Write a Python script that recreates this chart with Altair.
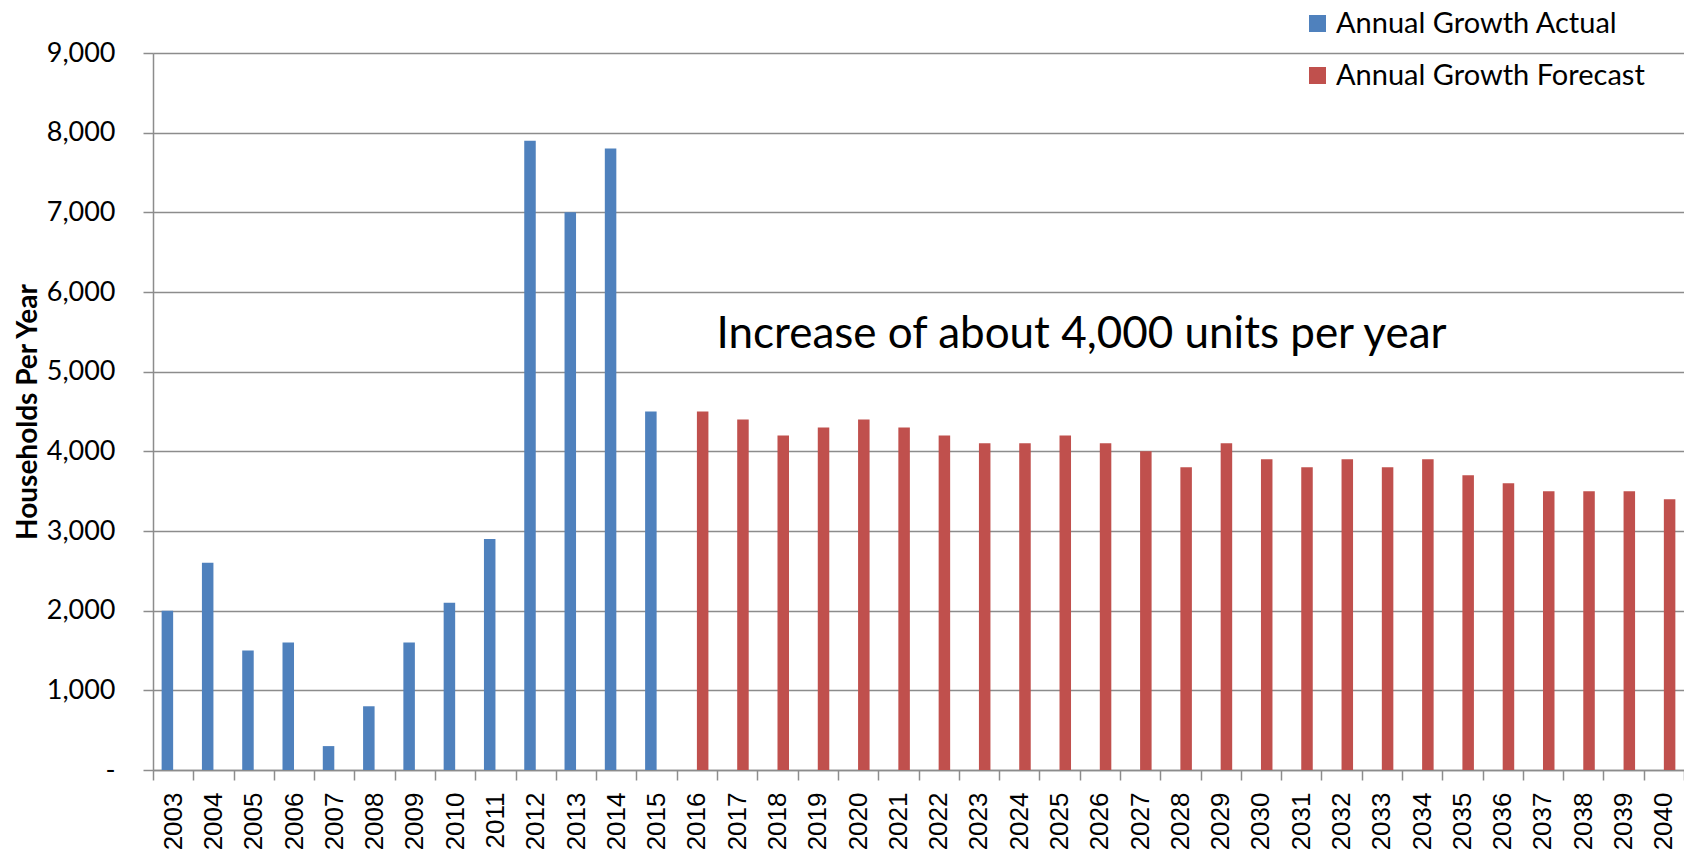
import altair as alt
import pandas as pd

actual_years = ["2003", "2004", "2005", "2006", "2007", "2008", "2009", "2010",
                "2011", "2012", "2013", "2014", "2015"]
actual_values = [2000, 2600, 1500, 1600, 300, 800, 1600, 2100, 2900, 7900, 7000, 7800, 4500]

forecast_years = ["2016", "2017", "2018", "2019", "2020", "2021", "2022", "2023",
                  "2024", "2025", "2026", "2027", "2028", "2029", "2030", "2031",
                  "2032", "2033", "2034", "2035", "2036", "2037", "2038", "2039", "2040"]
forecast_values = [4500, 4400, 4200, 4300, 4400, 4300, 4200, 4100, 4100, 4200, 4100,
                   4000, 3800, 4100, 3900, 3800, 3900, 3800, 3900, 3700, 3600, 3500,
                   3500, 3500, 3400]

series_names = ["Annual Growth Actual", "Annual Growth Forecast"]
series_colors = ["#4F81BD", "#C0504D"]

y_ticks = [0, 1000, 2000, 3000, 4000, 5000, 6000, 7000, 8000, 9000]

annotation_text = ["Increase of about 4,000 units per year"]
annotation_year = ["2025"]
annotation_value = [5300]

all_years = actual_years + forecast_years

rows = []
for y, v in zip(actual_years, actual_values):
    rows.append({"year": y, "value": v, "series": series_names[0]})
for y, v in zip(forecast_years, forecast_values):
    rows.append({"year": y, "value": v, "series": series_names[1]})
df = pd.DataFrame(rows)

ann = pd.DataFrame({"year": annotation_year, "value": annotation_value, "text": annotation_text})

x_enc = alt.X(
    "year:N",
    sort=all_years,
    scale=alt.Scale(domain=all_years, paddingInner=0, paddingOuter=0),
    axis=alt.Axis(
        title=None,
        labelAngle=270,
        labelFont="Liberation Sans",
        labelFontSize=26,
        labelColor="#000000",
        labelPadding=12,
        tickBand="extent",
        tickSize=10,
        tickColor="#8c8c8c",
        tickWidth=1.5,
        domainColor="#8c8c8c",
        domainWidth=1.5,
        grid=False,
        labelOverlap=False,
    ),
)

y_enc = alt.Y(
    "value:Q",
    scale=alt.Scale(domain=[0, 9000], nice=False),
    axis=alt.Axis(
        title="Households Per Year",
        titleFont="Lato",
        titleFontSize=28,
        titleFontWeight="bold",
        titleColor="#000000",
        titlePadding=4,
        values=y_ticks,
        labelExpr="datum.value == 0 ? '-\u00a0\u00a0\u00a0' : format(datum.value, ',')",
        labelFont="Lato",
        labelFontSize=27,
        labelColor="#000000",
        labelPadding=28,
        tickSize=10,
        tickColor="#8c8c8c",
        tickWidth=1.5,
        domainColor="#8c8c8c",
        domainWidth=1.5,
        grid=True,
        gridColor="#8c8c8c",
        gridWidth=1.5,
    ),
)

bars = alt.Chart(df).mark_bar().encode(
    x=x_enc,
    xOffset=alt.XOffset(
        "series:N",
        scale=alt.Scale(domain=series_names, paddingInner=0, paddingOuter=0.75),
    ),
    y=y_enc,
    color=alt.Color(
        "series:N",
        scale=alt.Scale(domain=series_names, range=series_colors),
        legend=alt.Legend(
            title=None,
            orient="none",
            legendX=1150,
            legendY=-44,
            symbolType="square",
            symbolSize=289,
            symbolStrokeWidth=0,
            labelFont="Lato",
            labelFontSize=29,
            labelColor="#000000",
            labelOffset=4,
            rowPadding=22,
            labelLimit=500,
        ),
    ),
)

text = alt.Chart(ann).mark_text(
    font="Lato", fontSize=44, color="#000000", align="center", baseline="alphabetic", dx=22
).encode(
    x=alt.X("year:N", sort=all_years),
    y=alt.Y("value:Q"),
    text="text:N",
)

chart = alt.layer(bars, text).properties(
    width=1531,
    height=717,
    autosize=alt.AutoSizeParams(type="none"),
    padding={"left": 145, "top": 45, "right": 0, "bottom": 80},
).configure_view(stroke=None).configure(background="#ffffff")

chart.save("out.html", embed_options={"renderer": "svg", "actions": False})
